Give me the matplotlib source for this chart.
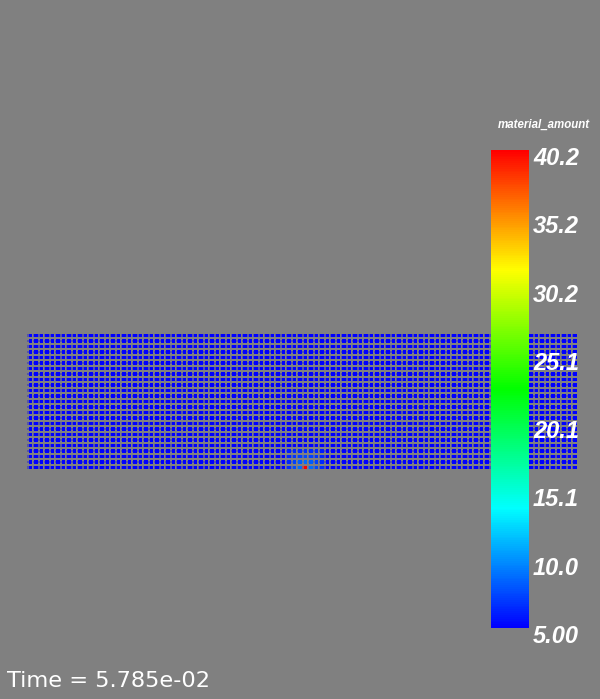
import numpy as np
import matplotlib
matplotlib.use("Agg")
import matplotlib.pyplot as plt
from matplotlib.colors import LinearSegmentedColormap, Normalize
from matplotlib.cm import ScalarMappable
from matplotlib.transforms import blended_transform_factory, offset_copy

# ---- data ----
n_cols = 100
n_rows = 25
base_value = 5.0
# local patch around the hot point (rows from bottom, columns 47..53)
patch_cols = [47, 48, 49, 50, 51, 52, 53]
patch_rows = [0, 1, 2, 3]
patch_values = [
    [6.6, 7.5, 8.8, 40.2, 8.8, 7.5, 6.6],
    [6.5, 7.3, 8.2, 8.8, 8.2, 7.3, 6.5],
    [6.3, 6.8, 7.3, 7.5, 7.3, 6.8, 6.3],
    [6.0, 6.3, 6.5, 6.6, 6.5, 6.3, 6.0],
]
vmin, vmax = 5.00, 40.2
tick_values = [5.00, 10.03, 15.06, 20.09, 25.11, 30.14, 35.17, 40.2]
tick_labels = ["5.00", "10.0", "15.1", "20.1", "25.1", "30.2", "35.2", "40.2"]
bar_title = "material_amount"
time_text = "Time = 5.785e-02"

# ---- figure ----
W, H = 600, 699
dpi = 100
bg = "#808080"
fig = plt.figure(figsize=(W / dpi, H / dpi), dpi=dpi, facecolor=bg)

cmap = LinearSegmentedColormap.from_list(
    "bluered_rainbow",
    [(0.0, (0, 0, 1)), (0.25, (0, 1, 1)), (0.5, (0, 1, 0)),
     (0.75, (1, 1, 0)), (1.0, (1, 0, 0))])
norm = Normalize(vmin=vmin, vmax=vmax)

field = np.full((n_rows, n_cols), base_value)
for i, r in enumerate(patch_rows):
    for j, c in enumerate(patch_cols):
        field[r, c] = patch_values[i][j]

# grid axes: data coords = grid indices
x0, x1 = 30.5, 575.0
ytop, ybot = 335.5, 467.5
ax = fig.add_axes([x0 / W, (H - ybot) / H, (x1 - x0) / W, (ybot - ytop) / H])
ax.set_xlim(0, n_cols - 1)
ax.set_ylim(0, n_rows - 1)
ax.axis("off")

cc, rr = np.meshgrid(np.arange(n_cols), np.arange(n_rows))
vals = field.ravel()
colors = cmap(norm(vals))
# dim "ghost" layer behind
ghost = colors.copy()
ghost[:, :3] = ghost[:, :3] * 0.35 + 0.5 * 0.65
ghost_off = offset_copy(ax.transData, fig=fig, x=-1.8 * 0.72, y=0.0, units="points")
ax.scatter(cc.ravel(), rr.ravel(), s=3.2, marker="s", c=ghost, linewidths=0,
           transform=ghost_off, clip_on=False)
order = np.argsort(vals)
ax.scatter(cc.ravel()[order], rr.ravel()[order], s=4.8, marker="s", c=colors[order],
           linewidths=0, clip_on=False)

# colorbar
bl, br, bt, bb = 491, 529, 150, 628
cax = fig.add_axes([bl / W, (H - bb) / H, (br - bl) / W, (bb - bt) / H])
cb = fig.colorbar(ScalarMappable(norm=norm, cmap=cmap), cax=cax)
cb.outline.set_visible(False)
cax.set_yticks([])
cax.set_xticks([])
cax.set_ylim(vmin, vmax)

lbl_trans = blended_transform_factory(cax.transAxes, cax.transData)
lbl_trans = offset_copy(lbl_trans, fig=fig, x=4 * 0.72, y=-15 * 0.72, units="points")
for v, t in zip(tick_values, tick_labels):
    cax.text(1.0, v, t, transform=lbl_trans, ha="left", va="baseline",
             color="white", fontsize=17, fontweight="bold", fontstyle="italic",
             family=["Liberation Sans", "DejaVu Sans"], clip_on=False)

fig.text(498 / W, (H - 128) / H, bar_title, ha="left", va="baseline",
         color="white", fontsize=8.3, fontweight="bold", fontstyle="italic",
         family=["Liberation Sans", "DejaVu Sans"])

fig.text(7 / W, (H - 687) / H, time_text, ha="left", va="baseline",
         color="white", fontsize=16.2, family=["DejaVu Sans"])

fig.savefig("out.png", dpi=dpi, facecolor=bg)
